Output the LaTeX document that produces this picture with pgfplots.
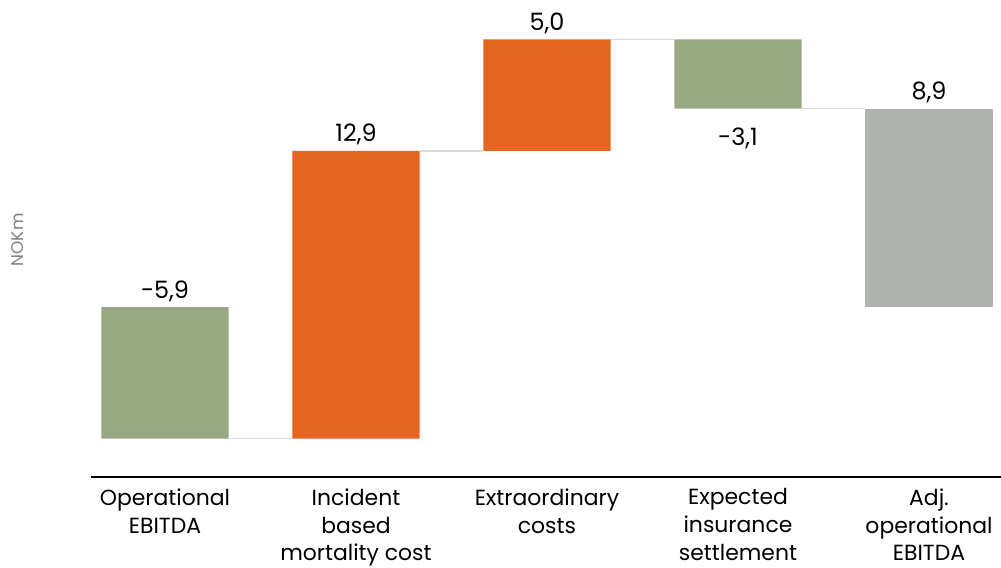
\documentclass[border=0pt]{standalone}
\usepackage{fontspec}
\setmainfont{Poppins}
\usepackage{pgfplots}
\pgfplotsset{compat=1.18}

\definecolor{wfgreen}{HTML}{98A882}
\definecolor{wforange}{HTML}{E5641F}
\definecolor{wfgray}{HTML}{AEB3AD}
\definecolor{wfline}{HTML}{D9D9D9}
\definecolor{lblgray}{HTML}{7F7F7F}

% shared frame for the bar axis and the overlay axis
\pgfplotsset{wf/.style={
    scale only axis, width=910bp, height=477bp,
    xmin=-0.3874, xmax=4.377, ymin=-7.623, ymax=13.767,
    at={(0,0)}, anchor=south west, clip=false
}}

\begin{document}
\begin{tikzpicture}
\begin{axis}[wf,
    ybar stacked, stack negative=on previous, bar width=0.665,
    axis y line=none, axis x line=bottom,
    x axis line style={-, black, line width=2.5bp},
    ytick=\empty,
    xtick={0,1,2,3,4},
    xticklabels={{Operational\\EBITDA},{Incident\\based\\mortality cost},{Extraordinary\\costs},{Expected\\insurance\\settlement},{Adj.\\operational\\EBITDA}},
    major tick length=0pt,
    xticklabel style={align=center, text=black, yshift=-8bp, font=\fontsize{22}{28}\selectfont},
]
% invisible base
\addplot[fill=none, draw=none] table {
x y
0 -5.9
1 -5.9
2 7.0
3 8.9
4 0
};
\addplot[fill=wfgreen, draw=none] table {
x y
0 5.9
1 0
2 0
3 3.1
4 0
};
\addplot[fill=wforange, draw=none] table {
x y
0 0
1 12.9
2 5.0
3 0
4 0
};
\addplot[fill=wfgray, draw=none] table {
x y
0 0
1 0
2 0
3 0
4 8.9
};
\node[rotate=90, text=lblgray, font=\fontsize{17}{17}\selectfont] at (axis description cs:-0.0802,0.497) {NOKm};
\end{axis}

\begin{axis}[wf, hide axis]
\addplot[wfline, line width=1.5bp] coordinates {(0.3325,-5.9) (0.6675,-5.9)};
\addplot[wfline, line width=1.5bp] coordinates {(1.3325,7.0) (1.6675,7.0)};
\addplot[wfline, line width=1.5bp] coordinates {(2.3325,12.0) (2.6675,12.0)};
\addplot[wfline, line width=1.5bp] coordinates {(3.3325,8.9) (3.6675,8.9)};
\addplot[draw=none, mark=none, nodes near coords, point meta=explicit symbolic,
    nodes near coords style={anchor=base, yshift=9bp, text=black, font=\fontsize{24}{28}\selectfont}]
    table[meta=lab] {
x y lab
0 0 -5,9
1 7.0 12,9
2 12.0 5,0
4 8.9 8,9
};
\addplot[draw=none, mark=none, nodes near coords, point meta=explicit symbolic,
    nodes near coords style={anchor=base, yshift=-37bp, text=black, font=\fontsize{24}{28}\selectfont}]
    table[meta=lab] {
x y lab
3 8.9 -3,1
};
\end{axis}
\pgfresetboundingbox
\path[use as bounding box] (-91bp,-91bp) rectangle (910bp,477bp);
\end{tikzpicture}
\end{document}
